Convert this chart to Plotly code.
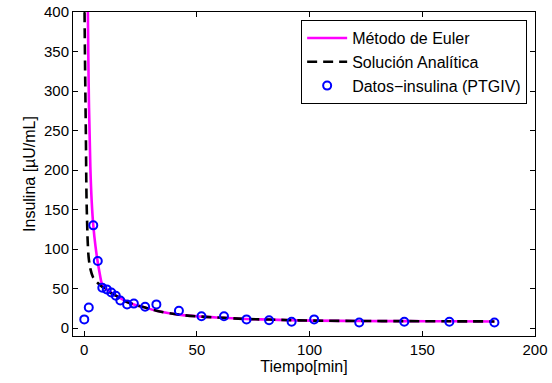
import plotly.graph_objects as go

# Data
t_data = [0, 2, 4, 6, 8, 10, 12, 14, 16, 19, 22, 27, 32, 42, 52, 62, 72, 82, 92, 102, 122, 142, 162, 182]
ins_data = [11, 26, 130, 85, 51, 49, 45, 41, 35, 30, 31, 27, 30, 22, 15, 15, 11, 10, 8, 11, 7, 8, 8, 7]

t_euler = [1.45, 1.6, 2.05, 2.7, 3.3, 4, 5, 6, 7, 7.8, 9, 10, 12, 14, 16, 19, 22, 27, 32, 42, 52, 62, 72, 82, 92, 102, 122, 142, 162, 182]
ins_euler = [440, 400, 289, 204, 160, 130, 103, 83, 67, 56, 51, 49, 45, 41, 38, 33, 30, 26, 22, 17, 14.5, 13, 11.5, 10.8, 10, 9.5, 9, 8.8, 8.6, 8.4]

t_anal = [0.08, 0.13, 0.4, 0.7, 1.0, 1.3, 1.5, 2.0, 2.8, 3.8, 5, 6, 8, 10, 12, 14, 16, 19, 22, 27, 32, 42, 52, 62, 72, 82, 92, 102, 122, 142, 162, 182]
ins_anal = [440, 400, 320, 247, 165, 130, 111, 88, 74, 65, 60, 57, 52, 48, 44, 41, 38, 33, 30, 26, 22, 17, 14.5, 13, 11.5, 10.8, 10, 9.5, 9, 8.8, 8.6, 8.4]

x_ticks = [0, 50, 100, 150, 200]
y_ticks = [0, 50, 100, 150, 200, 250, 300, 350, 400]

fig = go.Figure()
fig.add_trace(go.Scatter(x=t_euler, y=ins_euler, mode="lines", name="Método de Euler",
                         line=dict(color="#ff00ff", width=2.6), line_shape="spline"))
fig.add_trace(go.Scatter(x=t_anal, y=ins_anal, mode="lines", name="Solución Analítica",
                         line=dict(color="black", width=2.6, dash="10px,6px"), line_shape="spline"))
fig.add_trace(go.Scatter(x=t_data, y=ins_data, mode="markers", name="Datos−insulina (PTGIV)",
                         marker=dict(symbol="circle-open", color="#0000ff", size=8, line=dict(width=2, color="#0000ff"))))

FONT = "Liberation Sans, Arial"
axis_common = dict(showline=True, linecolor="black", linewidth=1, mirror="allticks",
                   ticks="inside", ticklen=5, tickcolor="black", showgrid=False, zeroline=False,
                   automargin=False,
                   tickfont=dict(family=FONT, size=15, color="black"))

fig.update_layout(
    width=552, height=383,
    margin=dict(l=73, r=17, t=12, b=47),
    paper_bgcolor="white", plot_bgcolor="white",
    font=dict(family=FONT, size=15, color="black"),
    xaxis=dict(range=[-5, 200], tickvals=x_ticks, title=dict(text="Tiempo[min]", font=dict(size=16), standoff=2), **axis_common),
    yaxis=dict(range=[-10, 400], tickvals=y_ticks, title=dict(text="Insulina [µU/mL]", font=dict(size=16), standoff=4), **axis_common),
    legend=dict(x=0.983, y=0.975, xanchor="right", yanchor="top", bgcolor="white",
                bordercolor="black", borderwidth=1, font=dict(size=16), tracegroupgap=0,
                itemwidth=40),
    showlegend=True,
)

fig.write_html("out.html")
